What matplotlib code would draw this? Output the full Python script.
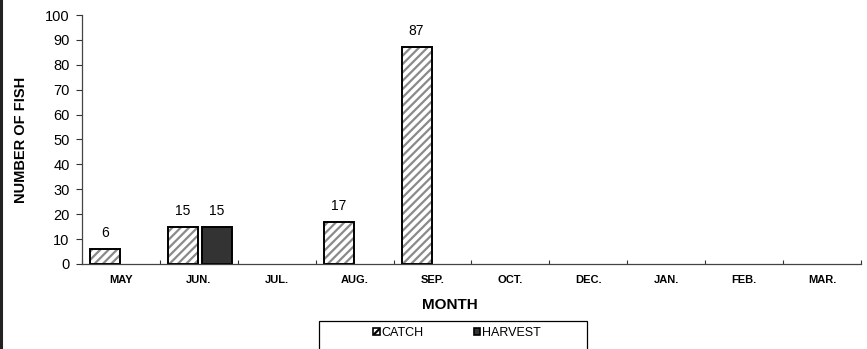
import matplotlib
matplotlib.use("Agg")
import matplotlib.pyplot as plt
from matplotlib.patches import Patch, Rectangle
from matplotlib.lines import Line2D
import numpy as np

plt.rcParams['font.family'] = ['Liberation Sans', 'DejaVu Sans']
plt.rcParams['hatch.linewidth'] = 1.6

# Monthly catch / harvest counts
months  = ["MAY", "JUN.", "JUL.", "AUG.", "SEP.", "OCT.", "DEC.", "JAN.", "FEB.", "MAR."]
catch   = [6, 15, 0, 17, 87, 0, 0, 0, 0, 0]
harvest = [0, 15, 0, 0, 0, 0, 0, 0, 0, 0]

fig = plt.figure(figsize=(8.67, 3.49), dpi=100)
ax = fig.add_axes([0.0946, 0.2436, 0.8984, 0.7134])

x = np.arange(len(months))
catch = np.array(catch)
harvest = np.array(harvest)
w = 0.385
off_c = -0.205
off_h = 0.23

# only months with fish get a bar
mc = catch > 0
mh = harvest > 0

# hatched catch bars: stripes first, then black outline on top
ax.bar(x[mc] + off_c, catch[mc], w, color="white", hatch="////", edgecolor="#8a8a8a", linewidth=0)
ax.bar(x[mc] + off_c, catch[mc], w, fill=False, edgecolor="black", linewidth=1.4)
ax.bar(x[mh] + off_h, harvest[mh], w, color="#333333", edgecolor="black", linewidth=1.4)

# value labels
for xi, v in zip(x[mc], catch[mc]):
    ax.text(xi + off_c, v + 3.6, str(v), ha="center", va="bottom", fontsize=10)
for xi, v in zip(x[mh], harvest[mh]):
    ax.text(xi + off_h, v + 3.6, str(v), ha="center", va="bottom", fontsize=10)

ax.set_xlim(-0.5, len(months) - 0.5)
ax.set_ylim(0, 100)
ax.set_yticks(range(0, 101, 10))
ax.tick_params(axis="y", labelsize=10.5, length=4, width=0.8, color="#333333", pad=5)

ax.set_xticks(x)
ax.set_xticklabels(months, fontsize=8, fontweight="bold")
ax.tick_params(axis="x", which="major", length=0, pad=8)
ax.set_xticks(np.arange(-0.5, len(months)), minor=True)
ax.tick_params(axis="x", which="minor", direction="in", length=3, width=0.8, color="#333333")

for s in ("top", "right"):
    ax.spines[s].set_visible(False)
for s in ("left", "bottom"):
    ax.spines[s].set_color("#444444")
    ax.spines[s].set_linewidth(0.9)

ax.set_ylabel("NUMBER OF FISH", fontsize=10.5, fontweight="bold")
ax.yaxis.set_label_coords(-0.069, 0.5)
ax.set_xlabel("MONTH", fontsize=11, fontweight="bold")
ax.xaxis.set_label_coords(0.472, -0.138)

# legend box runs off the bottom edge
fig.patches.append(Rectangle((0.368, -0.05), 0.309, 0.13, transform=fig.transFigure,
                             fill=False, edgecolor="black", linewidth=0.9))
handles = [Patch(facecolor="white", hatch="////", edgecolor="black", linewidth=1.2),
           Patch(facecolor="#333333", edgecolor="black", linewidth=1.2)]
fig.legend(handles, ["CATCH", "HARVEST"], loc="center", bbox_to_anchor=(0.527, 0.046),
           ncol=2, frameon=False, fontsize=9, handlelength=0.55, handleheight=0.55,
           handletextpad=0.1, columnspacing=4.0)

# border line at the left edge
fig.add_artist(Line2D([0.0015, 0.0015], [0, 1], transform=fig.transFigure,
                      color="#222222", linewidth=2.2))

fig.savefig("out.png", dpi=100)
